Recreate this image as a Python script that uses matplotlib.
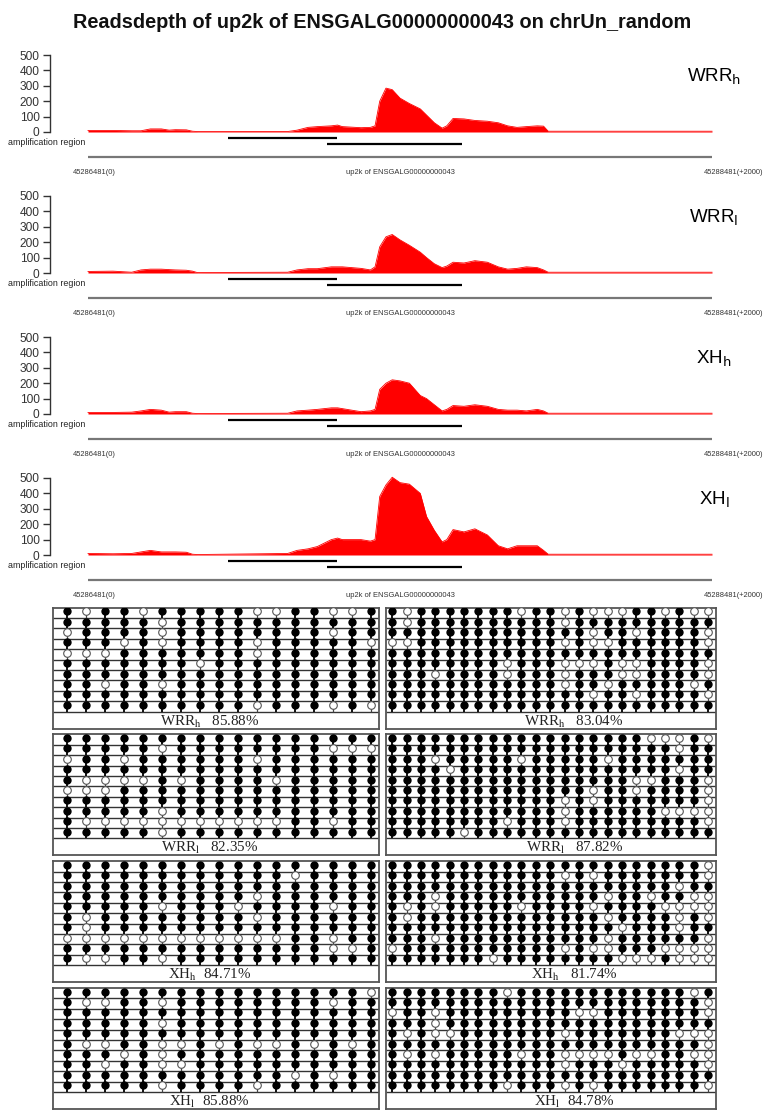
import matplotlib
matplotlib.use("Agg")
import matplotlib.pyplot as plt
import numpy as np

W, H = 765, 1114
SANS = "Liberation Sans"
SERIF = "Liberation Serif"

# ---------------- data ----------------
title = "Readsdepth of up2k of ENSGALG00000000043 on chrUn_random"
samples = [r"WRR$_\mathrm{h}$", r"WRR$_\mathrm{l}$", r"XH$_\mathrm{h}$", r"XH$_\mathrm{l}$"]
yticks = [0, 100, 200, 300, 400, 500]
pos_labels = ["45286481(0)", "up2k of ENSGALG00000000043", "45288481(+2000)"]
amp_regions = [(450, 797), (766, 1200)]

pos_bp = [0, 80, 140, 170, 200, 235, 260, 280, 315, 335, 350, 640, 670, 705, 735,
          780, 800, 815, 875, 905, 920, 935, 955, 975, 1000, 1030, 1065, 1085, 1110,
          1135, 1150, 1170, 1205, 1240, 1280, 1315, 1345, 1375, 1405, 1440, 1460,
          1475, 2000]
depth_WRRh = [10, 10, 8, 8, 20, 20, 12, 15, 14, 5, 3, 3, 12, 30, 35, 40, 45, 35, 28,
              30, 40, 200, 285, 275, 220, 185, 150, 110, 60, 25, 40, 88, 85, 75, 70,
              60, 40, 30, 35, 40, 38, 5, 5]
depth_WRRl = [10, 12, 5, 20, 25, 25, 22, 20, 18, 12, 3, 5, 20, 28, 28, 40, 40, 40, 30,
              20, 40, 170, 235, 250, 215, 180, 135, 100, 60, 35, 45, 70, 65, 80, 70,
              40, 25, 30, 40, 35, 20, 5, 5]
depth_XHh = [10, 10, 12, 20, 30, 25, 12, 15, 15, 5, 3, 5, 20, 25, 30, 40, 40, 35, 15,
             20, 30, 160, 200, 222, 215, 200, 120, 100, 60, 20, 30, 55, 50, 60, 50,
             30, 25, 25, 20, 30, 20, 5, 5]
depth_XHl = [10, 8, 10, 20, 30, 20, 20, 20, 18, 5, 3, 10, 30, 40, 55, 100, 110, 100,
             100, 90, 100, 380, 455, 505, 470, 460, 400, 250, 160, 85, 100, 165, 150,
             170, 130, 60, 40, 60, 60, 60, 30, 5, 5]
depths = [depth_WRRh, depth_WRRl, depth_XHh, depth_XHl]

captions_left = [r"WRR$_\mathrm{h}$   85.88%", r"WRR$_\mathrm{l}$   82.35%",
                 r"XH$_\mathrm{h}$  84.71%", r"XH$_\mathrm{l}$  85.88%"]
captions_right = [r"WRR$_\mathrm{h}$   83.04%", r"WRR$_\mathrm{l}$   87.82%",
                  r"XH$_\mathrm{h}$   81.74%", r"XH$_\mathrm{l}$  84.78%"]

meth_WRRh_L = ["10110111110011001", "11111011111111111", "01111011111111011",
               "11101011110111110", "00011111110111111", "11111110111111111",
               "11111111111111111", "11011011111111111", "11111111111111111",
               "11111111110111010"]
meth_WRRh_R = ["10111111101101000110100", "10111111111101111111111",
               "11111111111111011011110", "00111111111101001111110",
               "11111111111111111111111", "11111111011100010011110",
               "11101111011101110011110", "11111111111101101111101",
               "11111111111111011011110", "11111111111111111111111"]
meth_WRRl_L = ["11111111111111111", "11111011111111000", "01101111110111111",
               "11111111111111111", "10000101111011111", "00011111111111111",
               "11111111111111111", "11111011111111111", "10000000000011011",
               "11111011111111111"]
meth_WRRl_R = ["11111111111111111100010", "11111111111111111111011",
               "11101111101111101111111", "11110111111111111111011",
               "11111111111111111001110", "11111111111111011011110",
               "11111111111101011111110", "11111111111101111110000",
               "11111111011101111111110", "11111011111111111111111"]
meth_XHh_L = ["11111111111111111", "11111111111101111", "11111111111111111",
              "11111111110111111", "11111011101111011", "10111111110111111",
              "10111111111111111", "00000000000011011", "11111111111111001",
              "10011011111111111"]
meth_XHh_R = ["11111111111111111111110", "11111111111101011111110",
              "11111111111111111111011", "11101111111111101101100",
              "10101111101111011110000", "10111111111111101111010",
              "11111111111111110111011", "11101111111111101111110",
              "01111111111101001110000", "11111110111111110001000"]
meth_XHl_L = ["11111111111111110", "10011011111111011", "11111111111111111",
              "11111011111111111", "11111111111111111", "10011001010010101",
              "11101011111111111", "11011001111111111", "11111111111101011",
              "11111011110111111"]
meth_XHl_R = ["11111111011111111111101", "11111111111111111111110",
              "01101111111110011111110", "11101111111111111111111",
              "10100111111101111111000", "11111111111111111111110",
              "10101111101100001001100", "11111111111101110111110",
              "11111111111111111111111", "11111111011101011111110"]
meth_left = [meth_WRRh_L, meth_WRRl_L, meth_XHh_L, meth_XHl_L]
meth_right = [meth_WRRh_R, meth_WRRl_R, meth_XHh_R, meth_XHl_R]

# ---------------- figure ----------------
fig = plt.figure(figsize=(W / 100, H / 100), dpi=100)
fig.patch.set_facecolor("white")


def px_axes(x0, y0, x1, y1):
    return fig.add_axes([x0 / W, 1 - y1 / H, (x1 - x0) / W, (y1 - y0) / H])


fig.text(0.5, 1 - 22 / H, title, ha="center", va="center", fontsize=14.3,
         fontweight="bold", family=SANS, color="#111111")

PPB = 624 / 2000.0   # px per bp
X0 = 88.0            # px of bp 0
PPU = 77 / 500.0     # px per depth unit

for k in range(4):
    off = 141 * k
    ax_top, ax_bot = 45 + off, 185 + off
    zero_px = 132 + off
    ax = px_axes(50, ax_top, 752, ax_bot)
    ax.set_xlim((50 - X0) / PPB, (752 - X0) / PPB)
    ax.set_ylim((zero_px - ax_bot) / PPU, (zero_px - ax_top) / PPU)
    ax.patch.set_alpha(0)
    ax.fill_between(pos_bp, depths[k], 0, color="#ff0000", lw=0)
    ax.plot(pos_bp, depths[k], color="#ff0000", lw=0.6)
    for s in ["top", "right", "bottom"]:
        ax.spines[s].set_visible(False)
    ax.spines["left"].set_bounds(0, 500)
    ax.spines["left"].set_color("#333333")
    ax.spines["left"].set_linewidth(1.0)
    ax.set_yticks(yticks)
    ax.set_yticklabels([str(t) for t in yticks], family=SANS, fontsize=8.6,
                       color="#333333")
    ax.tick_params(axis="y", length=5, width=1.0, color="#333333", pad=2.5)
    ax.set_xticks([])
    # amplification regions
    ax.plot(amp_regions[0], [-36, -36], color="black", lw=1.6, solid_capstyle="butt")
    ax.plot(amp_regions[1], [-75, -75], color="black", lw=1.6, solid_capstyle="butt")
    ax.text((47 - X0) / PPB, -71, "amplification region", ha="center", va="center",
            fontsize=6.4, family=SANS, color="#222222", clip_on=False)
    ax.plot([0, 2000], [-162, -162], color="#777777", lw=1.6, solid_capstyle="butt")
    ax.text(20, -262, pos_labels[0], ha="center", va="center", fontsize=5.4,
            family=SANS, color="#333333")
    ax.text(1000, -262, pos_labels[1], ha="center", va="center", fontsize=5.4,
            family=SANS, color="#333333")
    ax.text((763 - X0) / PPB, -262, pos_labels[2], ha="right", va="center",
            fontsize=5.4, family=SANS, color="#333333", clip_on=False)
    ax.text((714 - X0) / PPB, 357, samples[k], ha="center", va="center",
            fontsize=13.5, family=SANS, math_fontfamily="dejavusans", color="black")

# ---------------- methylation panels ----------------
ROW_PX = 10.4
BOX_H = 121.0


def draw_box(x0, x1, top, c0, step, data, caption, cap_frac):
    bot = top + BOX_H
    ax = px_axes(x0, top, x1, bot)
    ax.set_xlim((x0 - c0) / step, (x1 - c0) / step)
    ax.set_ylim(BOX_H / ROW_PX, 0)
    xs_f, ys_f, xs_o, ys_o = [], [], [], []
    for j, row in enumerate(data):
        for i, ch in enumerate(row):
            if ch == "1":
                xs_f.append(i); ys_f.append(j)
            else:
                xs_o.append(i); ys_o.append(j)
    xs_f = np.array(xs_f); ys_f = np.array(ys_f)
    xs_o = np.array(xs_o); ys_o = np.array(ys_o)
    ax.hlines(np.arange(1, 11), *ax.get_xlim(), color="#333333", lw=1.0)
    ax.vlines(xs_f, ys_f + 0.55, ys_f + 1, color="black", lw=1.3)
    ax.vlines(xs_o, ys_o + 0.62, ys_o + 1, color="#444444", lw=0.9)
    ax.scatter(xs_f, ys_f + 0.36, s=36, c="black", marker="o", lw=0, zorder=3)
    ax.scatter(xs_o, ys_o + 0.36, s=30, facecolors="white", edgecolors="#555555",
               marker="o", lw=0.8, zorder=3)
    ax.set_xticks([]); ax.set_yticks([])
    for s in ax.spines.values():
        s.set_color("#555555"); s.set_linewidth(1.3)
    ax.text(cap_frac, (BOX_H - 10 * ROW_PX) / 2 / BOX_H - 0.012, caption,
            transform=ax.transAxes, ha="center", va="center", fontsize=10.8,
            family=SERIF, math_fontfamily="stix", color="#222222")


for r in range(4):
    top = 607.5 + 126.8 * r
    draw_box(53, 379, top, 66.7, 19.0, meth_left[r], captions_left[r], 0.48)
    draw_box(386, 716, top, 392.3, 14.35, meth_right[r], captions_right[r], 0.57)

fig.savefig("out.png", dpi=100, facecolor="white")
